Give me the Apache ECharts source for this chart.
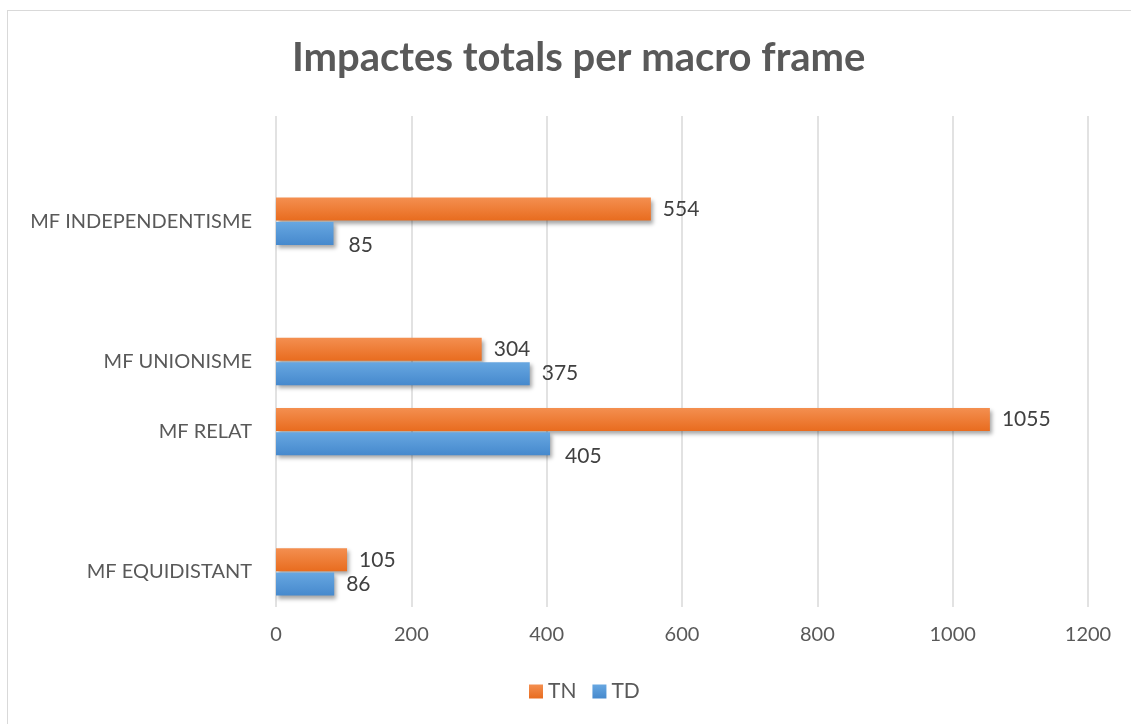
<!DOCTYPE html>
<html>
<head>
<meta charset="utf-8">
<script src="https://cdn.jsdelivr.net/npm/echarts@6/dist/echarts.min.js"></script>
<style>
  html, body { margin: 0; padding: 0; background: #fff; }
  #frame { position: absolute; left: 7px; top: 10px; width: 1140px; height: 730px; border: 1px solid #d9d9d9; }
  #chart { position: absolute; left: 0; top: 0; width: 1131px; height: 724px; }
</style>
</head>
<body>
<div id="frame"></div>
<div id="chart"></div>
<script>
// categories from bottom to top (blank slots are empty rows in the source sheet)
const categories = ['MF EQUIDISTANT', '', 'MF RELAT', 'MF UNIONISME', ' ', 'MF INDEPENDENTISME', '  ']
const tnValues = [105, null, 1055, 304, null, 554, null]
const tdValues = [86, null, 405, 375, null, 85, null]
const xTicks = [0, 200, 400, 600, 800, 1000, 1200]

const chart = echarts.init(document.getElementById('chart'))

const grad = (top, bottom) => new echarts.graphic.LinearGradient(0, 0, 0, 1, [
  { offset: 0, color: top },
  { offset: 1, color: bottom }
])

const labelStyle = {
  show: true,
  position: 'right',
  distance: 12,
  color: '#404040',
  fontFamily: 'Lato',
  fontSize: 21
}

// TD labels that Excel pushed down to avoid overlap
const tdData = tdValues.map((v, i) => {
  if (v === 85 || v === 405) return { value: v, label: { offset: [3, 12] } }
  return v
})

const option = {
  animation: false,
  title: {
    text: 'Impactes totals per macro frame',
    left: 287,
    top: 33,
    textStyle: {
      fontFamily: 'Lato',
      fontWeight: 'bold',
      fontSize: 40,
      color: '#595959'
    }
  },
  legend: {
    data: ['TN', 'TD'],
    bottom: 17,
    left: 524,
    icon: 'rect',
    itemWidth: 14,
    itemHeight: 14,
    itemGap: 16,
    textStyle: { fontFamily: 'Lato', fontSize: 21, color: '#595959' }
  },
  grid: {
    left: 276,
    right: 43,
    top: 116,
    bottom: 117
  },
  xAxis: {
    type: 'value',
    min: xTicks[0],
    max: xTicks[xTicks.length - 1],
    interval: 200,
    axisLine: { show: false },
    axisTick: { show: false },
    axisLabel: {
      fontFamily: 'Lato', fontSize: 20, color: '#595959', margin: 18,
      formatter: v => String(v)
    },
    splitLine: { lineStyle: { color: '#d9d9d9', width: 1.5 } }
  },
  yAxis: {
    type: 'category',
    data: categories,
    axisLine: { show: false },
    axisTick: { show: false },
    axisLabel: { fontFamily: 'Lato', fontSize: 20, color: '#595959', margin: 24 }
  },
  series: [
    {
      name: 'TN',
      type: 'bar',
      data: tnValues,
      barWidth: 23,
      barGap: '6%',
      itemStyle: {
        color: grad('#f48f50', '#e86c1f'),
        shadowColor: 'rgba(0,0,0,0.35)',
        shadowBlur: 4,
        shadowOffsetX: 2,
        shadowOffsetY: 3
      },
      label: labelStyle
    },
    {
      name: 'TD',
      type: 'bar',
      data: tdData,
      barWidth: 23,
      barGap: '6%',
      itemStyle: {
        color: grad('#67a7e1', '#4689cd'),
        shadowColor: 'rgba(0,0,0,0.35)',
        shadowBlur: 4,
        shadowOffsetX: 2,
        shadowOffsetY: 3
      },
      label: labelStyle
    }
  ]
}

chart.setOption(option)
</script>
</body>
</html>
